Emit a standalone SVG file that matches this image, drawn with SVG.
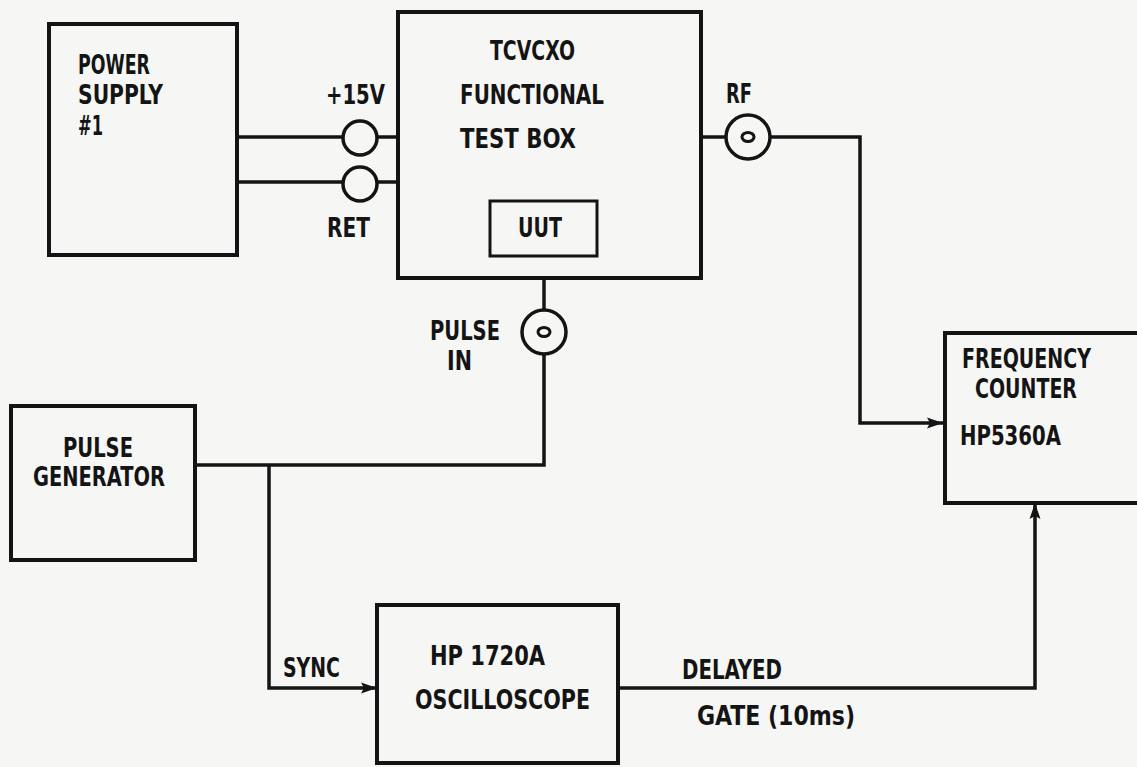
<svg xmlns="http://www.w3.org/2000/svg" width="1137" height="767" viewBox="0 0 1137 767">
<defs>
<style>
.box{fill:none;stroke:#141414;stroke-width:4;stroke-linejoin:miter}
.wire{fill:none;stroke:#141414;stroke-width:3.5}
.conn{fill:none;stroke:#141414;stroke-width:3.5}
.t{font-family:"DejaVu Sans Condensed","DejaVu Sans","Liberation Sans",sans-serif;font-weight:bold;font-size:27px;fill:#141414}
</style>
<marker id="arr" markerUnits="userSpaceOnUse" markerWidth="18" markerHeight="14" refX="16" refY="7" orient="auto">
<path d="M0,1.5 L16,7 L0,12.5 L3,7 Z" fill="#141414"/>
</marker>
</defs>
<rect width="1137" height="767" fill="#f6f6f4"/>

<g id="power-supply">
<rect class="box" x="49" y="24" width="188" height="231"/>
<text class="t" x="78" y="74" textLength="72" lengthAdjust="spacingAndGlyphs">POWER</text>
<text class="t" x="78" y="104" textLength="85" lengthAdjust="spacingAndGlyphs">SUPPLY</text>
<text class="t" x="78" y="135" textLength="25" lengthAdjust="spacingAndGlyphs">#1</text>
</g>

<g id="test-box">
<rect class="box" x="398" y="12" width="303" height="266"/>
<text class="t" x="490" y="60" textLength="85" lengthAdjust="spacingAndGlyphs">TCVCXO</text>
<text class="t" x="460" y="104" textLength="144" lengthAdjust="spacingAndGlyphs">FUNCTIONAL</text>
<text class="t" x="460" y="148" textLength="116" lengthAdjust="spacingAndGlyphs">TEST BOX</text>
</g>

<g id="uut">
<rect class="box" x="490" y="201" width="107" height="55" style="stroke-width:3"/>
<text class="t" x="518" y="237" textLength="44" lengthAdjust="spacingAndGlyphs">UUT</text>
</g>

<g id="frequency-counter">
<path class="box" d="M1140,333 H945 V503 H1140"/>
<text class="t" x="962" y="368" textLength="129" lengthAdjust="spacingAndGlyphs">FREQUENCY</text>
<text class="t" x="975" y="398" textLength="102" lengthAdjust="spacingAndGlyphs">COUNTER</text>
<text class="t" x="960" y="445" textLength="101" lengthAdjust="spacingAndGlyphs">HP5360A</text>
</g>

<g id="pulse-generator">
<rect class="box" x="11" y="406" width="184" height="154"/>
<text class="t" x="63" y="457" textLength="70" lengthAdjust="spacingAndGlyphs">PULSE</text>
<text class="t" x="33" y="486" textLength="132" lengthAdjust="spacingAndGlyphs">GENERATOR</text>
</g>

<g id="oscilloscope">
<rect class="box" x="377" y="605" width="241" height="158"/>
<text class="t" x="430" y="665" textLength="115" lengthAdjust="spacingAndGlyphs">HP 1720A</text>
<text class="t" x="415" y="709" textLength="175" lengthAdjust="spacingAndGlyphs">OSCILLOSCOPE</text>
</g>

<g id="connectors">
<!-- +15V -->
<line class="wire" x1="237" y1="137" x2="343" y2="137"/>
<circle class="conn" cx="360" cy="138" r="17"/>
<line class="wire" x1="377" y1="137" x2="398" y2="137"/>
<!-- RET -->
<line class="wire" x1="237" y1="182" x2="343" y2="182"/>
<circle class="conn" cx="360" cy="184" r="17"/>
<line class="wire" x1="377" y1="182" x2="398" y2="182"/>
<!-- RF -->
<line class="wire" x1="701" y1="137" x2="726" y2="137"/>
<circle class="conn" cx="748" cy="137" r="22"/>
<ellipse class="conn" cx="748" cy="137" rx="6" ry="4.5" style="stroke-width:3"/>
<polyline class="wire" points="770,137 860,137 860,423 943,423" marker-end="url(#arr)"/>
<!-- PULSE IN -->
<line class="wire" x1="544" y1="278" x2="544" y2="310"/>
<circle class="conn" cx="544" cy="332" r="22"/>
<ellipse class="conn" cx="544" cy="332" rx="6" ry="4.5" style="stroke-width:3"/>
<polyline class="wire" points="544,354 544,465 195,465"/>
<!-- SYNC -->
<polyline class="wire" points="269,465 269,688 377,688" marker-end="url(#arr)"/>
<!-- DELAYED GATE -->
<polyline class="wire" points="618,688 1035,688 1035,503" marker-end="url(#arr)"/>
</g>

<g id="labels">
<text class="t" x="326" y="104" textLength="59" lengthAdjust="spacingAndGlyphs">+15V</text>
<text class="t" x="327" y="237" textLength="43" lengthAdjust="spacingAndGlyphs">RET</text>
<text class="t" x="726" y="103" textLength="26" lengthAdjust="spacingAndGlyphs">RF</text>
<text class="t" x="430" y="340" textLength="70" lengthAdjust="spacingAndGlyphs">PULSE</text>
<text class="t" x="447" y="370" textLength="25" lengthAdjust="spacingAndGlyphs">IN</text>
<text class="t" x="283" y="677" textLength="57" lengthAdjust="spacingAndGlyphs">SYNC</text>
<text class="t" x="682" y="679" textLength="100" lengthAdjust="spacingAndGlyphs">DELAYED</text>
<text class="t" x="697" y="725" textLength="158" lengthAdjust="spacingAndGlyphs">GATE (10ms)</text>
</g>
</svg>
